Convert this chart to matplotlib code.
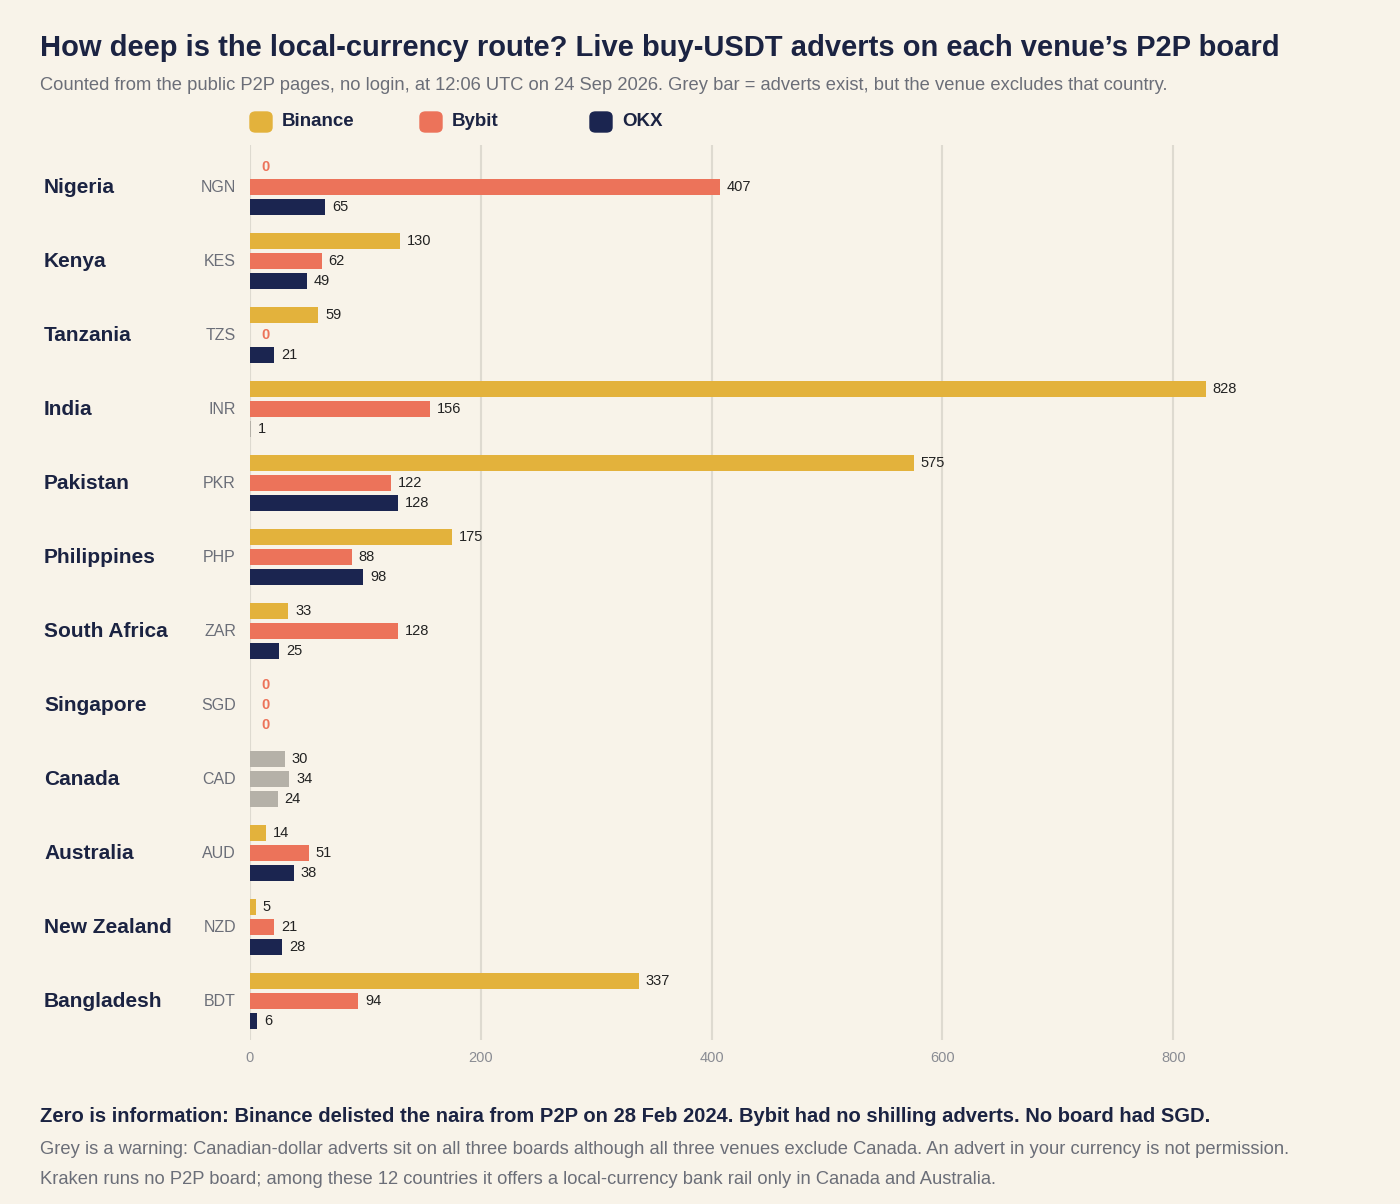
import matplotlib.pyplot as plt
from matplotlib.patches import FancyBboxPatch

countries = ['Nigeria', 'Kenya', 'Tanzania', 'India', 'Pakistan', 'Philippines',
             'South Africa', 'Singapore', 'Canada', 'Australia', 'New Zealand', 'Bangladesh']
codes = ['NGN', 'KES', 'TZS', 'INR', 'PKR', 'PHP', 'ZAR', 'SGD', 'CAD', 'AUD', 'NZD', 'BDT']
binance = [0, 130, 59, 828, 575, 175, 33, 0, 30, 14, 5, 337]
bybit = [407, 62, 0, 156, 122, 88, 128, 0, 34, 51, 21, 94]
okx = [65, 49, 21, 1, 128, 98, 25, 0, 24, 38, 28, 6]
# (country index, venue index) where the venue excludes the country
excluded = [(3, 2), (8, 0), (8, 1), (8, 2)]

venues = ['Binance', 'Bybit', 'OKX']
colors = ['#E3B23C', '#EC735A', '#1B2550']
grey = '#B5B1A8'
bg = '#F8F3E9'
dark = '#1B2342'
muted = '#6B6E78'

plt.rcParams['font.family'] = ['Liberation Sans', 'DejaVu Sans']
W, H = 1400, 1204
fig = plt.figure(figsize=(W / 100, H / 100), dpi=100, facecolor=bg)
ax = fig.add_axes([250 / W, 1 - 1040 / H, (1329 - 250) / W, (1040 - 145) / H])
ax.set_facecolor(bg)

series = [binance, bybit, okx]
off = [-0.27, 0, 0.27]
for i in range(len(countries)):
    for v in range(3):
        val = series[v][i]
        y = i + off[v]
        c = grey if (i, v) in excluded else colors[v]
        if val == 0:
            ax.text(13, y, '0', color=colors[1], fontsize=10.5, fontweight='bold',
                    ha='center', va='center')
            continue
        ax.barh(y, val, height=0.216, color=c, zorder=3)
        ax.text(val + 6, y, str(val), fontsize=10.5, color='#222', va='center')
    yf = 1 - (145 + (i + 0.57) * 74) / H
    fig.text(44 / W, yf, countries[i], fontsize=15, fontweight='bold', color=dark, va='center')
    fig.text(236 / W, yf, codes[i], fontsize=11.5, color=muted, va='center', ha='right')

ax.set_xlim(0, 935)
ax.set_ylim(11.53, -0.57)
ax.set_xticks([0, 200, 400, 600, 800])
ax.set_yticks([])
ax.grid(axis='x', color='#DEDAD0', linewidth=1.5, zorder=0)
for s in ax.spines.values():
    s.set_visible(False)
ax.tick_params(axis='x', length=0, labelsize=10.5, labelcolor='#8A8C93', pad=8)

fig.text(40 / W, 1 - 48 / H, 'How deep is the local-currency route? Live buy-USDT adverts on each venue\u2019s P2P board',
         fontsize=21, fontweight='bold', color=dark, va='center')
fig.text(40 / W, 1 - 86 / H, 'Counted from the public P2P pages, no login, at 12:06 UTC on 24 Sep 2026. '
         'Grey bar = adverts exist, but the venue excludes that country.',
         fontsize=13.2, color=muted, va='center')

for k, (name, col) in enumerate(zip(venues, colors)):
    x0 = 250 + k * 170
    fig.patches.append(FancyBboxPatch(((x0) / W, 1 - 132 / H), 22 / W, 20 / H,
                                      boxstyle='round,pad=0,rounding_size=0.004',
                                      transform=fig.transFigure, color=col))
    fig.text((x0 + 32) / W, 1 - 122 / H, name, fontsize=13.5, fontweight='bold',
             color=dark, va='center')

fig.text(40 / W, 1 - 1116 / H, 'Zero is information: Binance delisted the naira from P2P on 28 Feb 2024. '
         'Bybit had no shilling adverts. No board had SGD.',
         fontsize=14.5, fontweight='bold', color=dark, va='center')
fig.text(40 / W, 1 - 1149 / H, 'Grey is a warning: Canadian-dollar adverts sit on all three boards although all three '
         'venues exclude Canada. An advert in your currency is not permission.',
         fontsize=13.2, color=muted, va='center')
fig.text(40 / W, 1 - 1179 / H, 'Kraken runs no P2P board; among these 12 countries it offers a local-currency '
         'bank rail only in Canada and Australia.',
         fontsize=13.2, color=muted, va='center')

fig.savefig('out.png', dpi=100, facecolor=bg)
